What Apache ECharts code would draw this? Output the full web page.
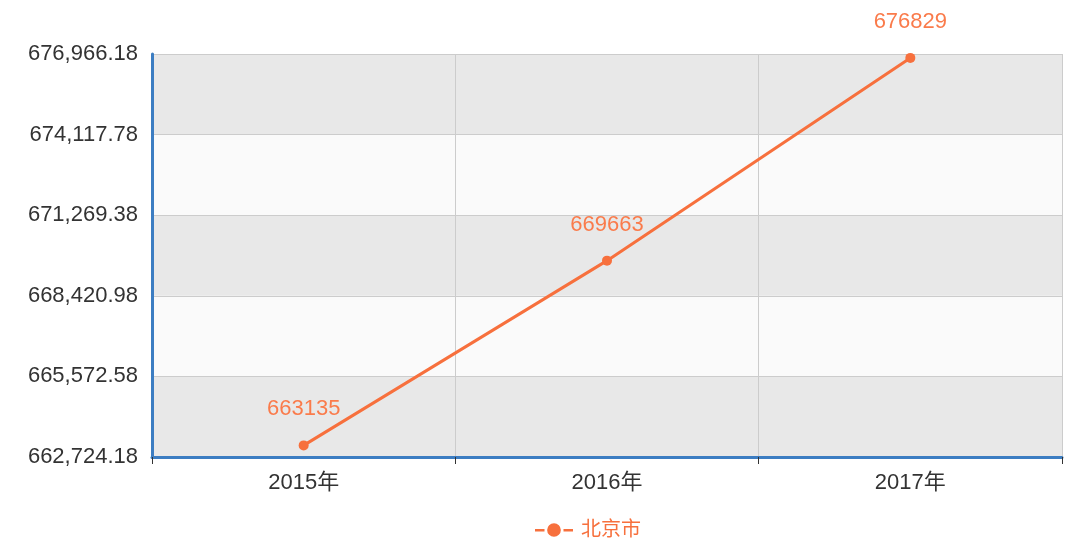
<!DOCTYPE html>
<html>
<head>
<meta charset="utf-8">
<script src="https://cdn.jsdelivr.net/npm/echarts@6/dist/echarts.min.js"></script>
<style>
  html, body { margin: 0; padding: 0; background: #fff; }
  #main { width: 1080px; height: 554px; }
</style>
</head>
<body>
<div id="main"></div>
<script type="text/javascript">
    // 数据
    var years  = ['2015年', '2016年', '2017年'];
    var values = [663135, 669663, 676829];
    var seriesName = '北京市';
    var yMin = 662724.18;
    var yMax = 676966.18;
    var yStep = 2848.4;

    var lineColor = '#f7703d';
    var axisColor = '#3c7dc2';

    var myChart = echarts.init(document.getElementById('main'));

    var option = {
        textStyle: { fontFamily: 'Liberation Sans, Arial, Noto Sans CJK SC, sans-serif' },
        grid: { left: 152, right: 18, top: 54, bottom: 97 },
        legend: {
            bottom: 9,
            left: 530,
            itemWidth: 38,
            itemHeight: 15,
            // 老式图例：短线-圆点-短线
            icon: 'path://M0,6L9,6L9,8.5L0,8.5Z M27,6L36,6L36,8.5L27,8.5Z M18,0.5A6.5,6.5 0 1,1 17.99,0.5Z',
            textStyle: { color: lineColor, fontSize: 20, padding: [0, 0, 0, 3] },
            data: [seriesName]
        },
        xAxis: {
            type: 'category',
            data: years,
            boundaryGap: true,
            axisLine: { lineStyle: { color: axisColor, width: 3 } },
            axisTick: { show: true, length: 7, lineStyle: { color: '#333' } },
            axisLabel: { color: '#333', fontSize: 22, margin: 15 },
            splitLine: { show: true, lineStyle: { color: '#cccccc' } }
        },
        yAxis: {
            type: 'value',
            min: yMin,
            max: yMax,
            interval: yStep,
            axisLine: { show: true, lineStyle: { color: axisColor, width: 3 } },
            axisTick: { show: false },
            axisLabel: {
                color: '#333',
                fontSize: 22,
                margin: 14,
                formatter: function (v) {
                    return Number(v).toLocaleString('en-US', { minimumFractionDigits: 2, maximumFractionDigits: 2 });
                }
            },
            splitLine: { show: true, lineStyle: { color: '#cccccc' } },
            splitArea: { show: true, areaStyle: { color: ['#e8e8e8', '#fafafa'] } }
        },
        series: [
            {
                name: seriesName,
                type: 'line',
                data: values,
                symbol: 'circle',
                symbolSize: 10,
                lineStyle: { color: lineColor, width: 3 },
                itemStyle: { color: lineColor },
                label: {
                    show: true,
                    position: 'top',
                    distance: 20,
                    color: '#fa7b4b',
                    fontSize: 22
                }
            }
        ]
    };
    myChart.setOption(option);
</script>
</body>
</html>
